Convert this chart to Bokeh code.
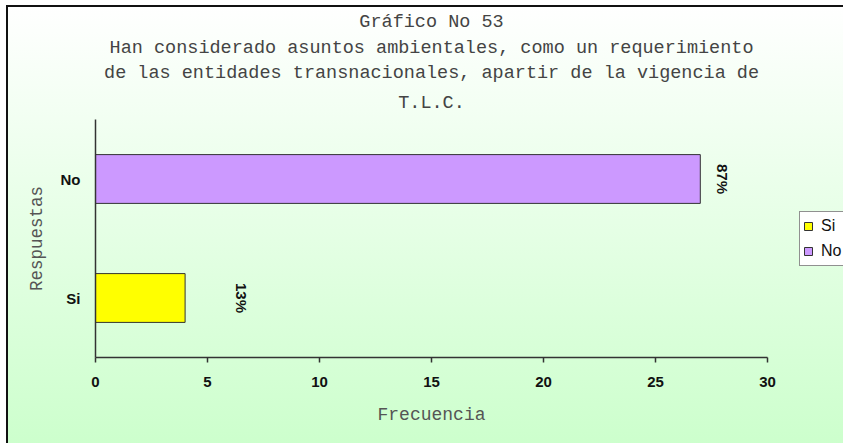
import math
from bokeh.plotting import figure
from bokeh.models import (ColumnDataSource, FactorRange, Range1d, FixedTicker,
                          Title, Legend, LegendItem)
from bokeh.core.properties import value
from bokeh.embed import file_html
from bokeh.resources import INLINE

# ---- data ----
categories = ["Si", "No"]
frecuencia = [4, 27]
bar_colors = ["#FFFF00", "#CC99FF"]
x_ticks = [0, 5, 10, 15, 20, 25, 30]
x_axis_max = 30
title_lines = [
    "Gráfico No 53",
    "Han considerado asuntos ambientales, como un requerimiento",
    "de las entidades transnacionales, apartir de la vigencia de",
    "T.L.C.",
]
x_title = "Frecuencia"
y_title = "Respuestas"

total = sum(frecuencia)
pct_labels = [f"{round(v * 100 / total)}%" for v in frecuencia]

# ---- layout constants (pixels) ----
label_dx_px = [56, 22]
W, H = 843, 443
FRAME_L, FRAME_R_AXIS, FRAME_T, FRAME_B = 95, 767, 119, 357
x_view_max = x_axis_max * (W - FRAME_L) / (FRAME_R_AXIS - FRAME_L)
CENTER_X = (FRAME_L + FRAME_R_AXIS) / 2
MONO_ADV = 0.6          # advance width of a monospace glyph, in em
TITLE_PX = 18.5
XLABEL_PX = 18


def left_offset(text, size_px):
    width = len(text) * MONO_ADV * size_px
    return CENTER_X - FRAME_L - width / 2


source = ColumnDataSource(dict(cat=categories, val=frecuencia, color=bar_colors,
                               pct=pct_labels, dx=label_dx_px))

bg = ("linear-gradient(#111111,#111111) 6px 5px / 2px 100% no-repeat, "
      "linear-gradient(#111111,#111111) 6px 5px / 100% 2px no-repeat, "
      "linear-gradient(to bottom, #ffffff 0%, #ccffcc 100%) 6px 5px / 100% 100% no-repeat, "
      "#ffffff")

p = figure(width=W, height=H, output_backend="svg", toolbar_location=None,
           y_range=FactorRange(factors=categories), x_range=Range1d(0, x_view_max),
           min_border_left=FRAME_L, min_border_right=0, min_border_top=FRAME_T,
           min_border_bottom=H - FRAME_B,
           styles={"background": bg})
p.border_fill_alpha = 0
p.background_fill_alpha = 0
p.outline_line_color = None
p.xgrid.visible = False
p.ygrid.visible = False

bars = p.hbar(y="cat", right="val", left=0, height=0.41, source=source,
              fill_color="color", line_color="#333333", line_width=1)

p.text(x="val", y="cat", text="pct", source=source, x_offset="dx",
       angle=-math.pi / 2, text_align="center", text_baseline="middle",
       text_font=value("Liberation Sans"), text_font_style="bold",
       text_font_size="15px", text_color="#111111")

# axes
xa = p.xaxis[0]
xa.bounds = (0, x_axis_max)
xa.ticker = FixedTicker(ticks=x_ticks)
xa.minor_tick_line_color = None
xa.major_tick_in = 0
xa.major_tick_out = 5
xa.major_label_standoff = 14
xa.axis_line_color = "#333333"
xa.axis_line_width = 1.5
xa.major_tick_line_color = "#333333"
xa.major_tick_line_width = 1.5
xa.major_label_text_font = "Liberation Sans"
xa.major_label_text_font_style = "bold"
xa.major_label_text_font_size = "15px"
xa.major_label_text_color = "#111111"

ya = p.yaxis[0]
ya.major_tick_in = 0
ya.major_tick_out = 0
ya.minor_tick_line_color = None
ya.major_tick_line_color = None
ya.major_label_standoff = 15
ya.axis_line_color = "#333333"
ya.axis_line_width = 1.5
ya.major_label_text_font = "Liberation Sans"
ya.major_label_text_font_style = "bold"
ya.major_label_text_font_size = "15px"
ya.major_label_text_color = "#111111"
ya.axis_label = y_title
ya.axis_label_text_font = "Liberation Mono"
ya.axis_label_text_font_style = "normal"
ya.axis_label_text_font_size = "17.5px"
ya.axis_label_text_color = "#555555"
ya.axis_label_standoff = 11

# x axis title, centred under the 0-30 axis line
p.add_layout(Title(text=x_title, align="left",
                   offset=left_offset(x_title, XLABEL_PX), standoff=27,
                   text_font="Liberation Mono", text_font_size=f"{XLABEL_PX}px",
                   text_font_style="normal", text_color="#555555"), "below")

# title lines (first added sits closest to the frame)
standoffs = [12, 1, 3, 4]
for t, so in zip(reversed(title_lines), standoffs):
    p.add_layout(Title(text=t, align="left", offset=left_offset(t, TITLE_PX),
                       standoff=so,
                       text_font="Liberation Mono", text_font_size=f"{TITLE_PX}px",
                       text_font_style="normal", text_color="#444444"), "above")

# legend
items = [LegendItem(label=c, renderers=[bars], index=i) for i, c in enumerate(categories)]
legend = Legend(items=items, location=(704, 91), orientation="vertical",
                margin=0, padding=3, spacing=3, glyph_width=10, glyph_height=10,
                label_height=22, label_standoff=8,
                label_text_font="Liberation Sans", label_text_font_size="16px",
                label_text_color="#111111",
                border_line_color="#222222", border_line_width=1,
                background_fill_color="#ffffff", background_fill_alpha=1)
p.add_layout(legend, "center")

open("out.html", "w").write(file_html(p, INLINE))
